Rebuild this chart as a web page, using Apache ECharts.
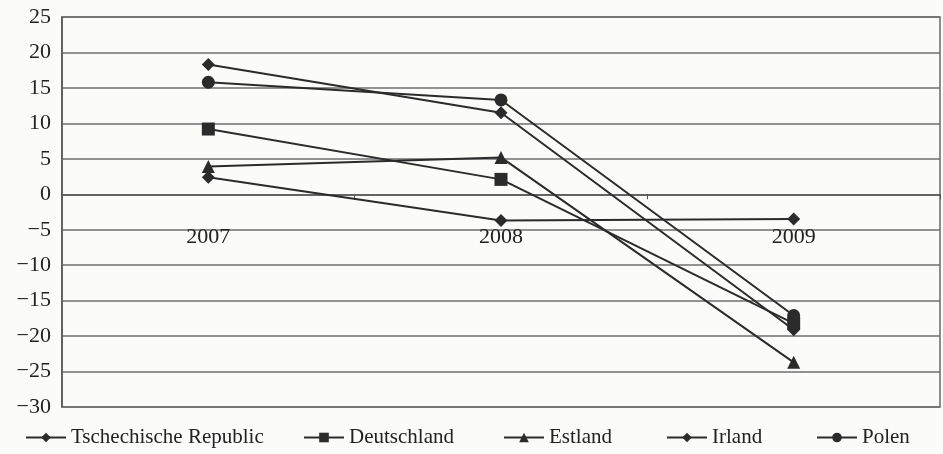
<!DOCTYPE html>
<html>
<head>
<meta charset="utf-8">
<script src="https://cdn.jsdelivr.net/npm/echarts@6/dist/echarts.min.js"></script>
<style>
  html, body { margin: 0; padding: 0; background: #fbfbfa; }
  #chart { width: 943px; height: 454px; }
</style>
</head>
<body>
<div id="chart"></div>
<script>
// Years on the category axis
const years = ['2007', '2008', '2009'];

// Country names, in legend order
const countries = ['Tschechische Republic', 'Deutschland', 'Estland', 'Irland', 'Polen'];

// Annual change per country (%)
const tschechien = [18.3, 11.5, -19.1];
const deutschland = [9.2, 2.1, -18.2];
const estland = [3.9, 5.2, -23.7];
const irland = [2.4, -3.7, -3.5];
const polen = [15.8, 13.3, -17.1];

// Value-axis range and step
const yMin = -30;
const yMax = 25;
const yStep = 5;

const ink = '#2b2b2b';
const font = 'Liberation Serif';

const gridTop = 17;
const gridBottom = 47;
const chartHeight = 454;

// The category axis sits on the zero line; shift it up from the grid bottom
const plotHeight = chartHeight - gridTop - gridBottom;
const zeroOffset = -plotHeight * (0 - yMin) / (yMax - yMin);

// Left edge of each legend entry along the bottom row
const legendLefts = [25, 303, 503, 666, 816];

function makeSeries(name, data, symbol, size) {
  return {
    name: name,
    type: 'line',
    data: data,
    symbol: symbol,
    symbolSize: size,
    lineStyle: { color: ink, width: 2 },
    itemStyle: { color: ink },
    emphasis: { disabled: true }
  };
}

const legends = countries.map((name, i) => ({
  top: 427,
  left: legendLefts[i],
  itemWidth: 40,
  itemHeight: 12,
  padding: 0,
  textStyle: { fontFamily: font, fontSize: 21, color: '#222' },
  data: [name]
}));

const chart = echarts.init(document.getElementById('chart'));
chart.setOption({
  animation: false,
  backgroundColor: '#fbfbfa',
  textStyle: { fontFamily: font },
  grid: {
    left: 62, right: 3, top: gridTop, bottom: gridBottom,
    show: true, borderColor: '#6a6a6a', borderWidth: 1.5
  },
  legend: legends,
  xAxis: {
    type: 'category',
    data: years,
    boundaryGap: true,
    position: 'bottom',
    offset: zeroOffset,
    axisLine: { onZero: false, lineStyle: { color: '#555', width: 1.5 } },
    axisTick: { show: true, length: 5, lineStyle: { color: '#555' } },
    axisLabel: { margin: 32, fontFamily: font, fontSize: 22, color: '#222' },
    splitLine: { show: false }
  },
  yAxis: {
    type: 'value',
    min: yMin, max: yMax, interval: yStep,
    axisLine: { show: true, lineStyle: { color: '#555', width: 1.5 } },
    axisTick: { show: false },
    axisLabel: {
      margin: 11, fontFamily: font, fontSize: 22, color: '#222',
      formatter: v => String(v).replace('-', '\u2212')
    },
    splitLine: { show: true, lineStyle: { color: '#6f6f6f', width: 1.5 } }
  },
  series: [
    makeSeries(countries[0], tschechien, 'diamond', 13),
    makeSeries(countries[1], deutschland, 'rect', 13),
    makeSeries(countries[2], estland, 'triangle', 13),
    makeSeries(countries[3], irland, 'diamond', 13),
    makeSeries(countries[4], polen, 'circle', 13)
  ]
});
</script>
</body>
</html>
